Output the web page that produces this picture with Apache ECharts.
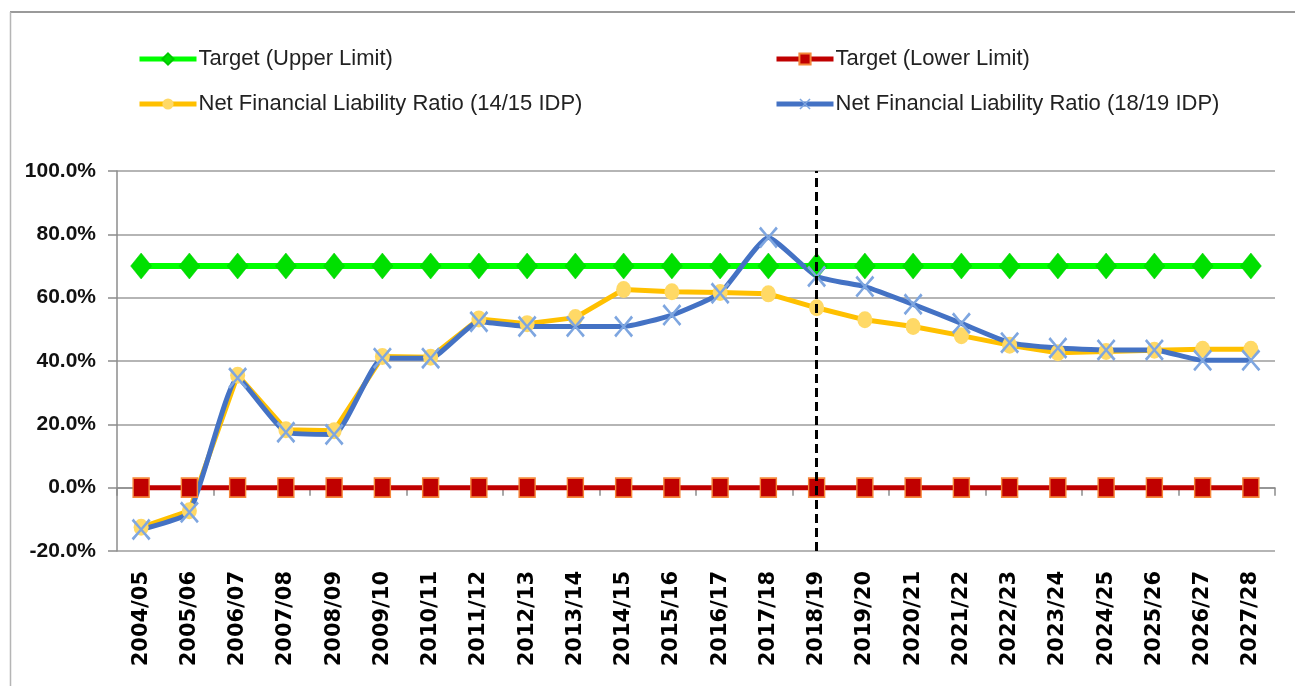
<!DOCTYPE html>
<html>
<head>
<meta charset="utf-8">
<script src="https://cdn.jsdelivr.net/npm/echarts@6/dist/echarts.min.js"></script>
<style>
html,body{margin:0;padding:0;background:#fff;}
#chart{width:1295px;height:686px;}
</style>
</head>
<body>
<div id="chart"></div>
<script>
const categories = ['2004/05','2005/06','2006/07','2007/08','2008/09','2009/10','2010/11','2011/12','2012/13','2013/14','2014/15','2015/16','2016/17','2017/18','2018/19','2019/20','2020/21','2021/22','2022/23','2023/24','2024/25','2025/26','2026/27','2027/28'];
const upperLimit = [70,70,70,70,70,70,70,70,70,70,70,70,70,70,70,70,70,70,70,70,70,70,70,70];
const lowerLimit = [0,0,0,0,0,0,0,0,0,0,0,0,0,0,0,0,0,0,0,0,0,0,0,0];
const nflr1415 = [-12.5,-7.3,35.5,18.3,18.0,41.4,41.2,53.3,51.8,53.7,62.6,61.9,61.6,61.2,56.8,53.0,50.9,48.0,45.0,42.6,43.0,43.4,43.7,43.7];
const nflr1819 = [-13.2,-7.8,34.6,17.5,16.8,40.9,40.9,52.4,50.9,50.9,50.9,54.5,61.4,79.0,66.7,63.5,57.9,51.9,45.8,44.1,43.5,43.5,40.2,40.2];
const yTicks = {min:-20, max:100, interval:20};
const dividerCategory = '2018/19';
const seriesNames = ['Target (Upper Limit)','Target (Lower Limit)','Net Financial Liability Ratio (14/15 IDP)','Net Financial Liability Ratio (18/19 IDP)'];

const sans = "'Liberation Sans',Arial,sans-serif";
const crossPath = 'path://M0,1 L1,0 L5,4.2 L9,0 L10,1 L5.8,5 L10,9 L9,10 L5,5.8 L1,10 L0,9 L4.2,5 Z';

const chart = echarts.init(document.getElementById('chart'));

function legendAt(name, left, top){
  return {
    data:[name], left:left, top:top, orient:'horizontal', padding:0,
    itemWidth:57, itemHeight:14, itemGap:0,
    lineStyle:{width:5},
    textStyle:{fontFamily:sans, fontSize:22, color:'#222', padding:[0,0,0,-3]},
    selectedMode:false
  };
}

chart.setOption({
  animation:false,
  backgroundColor:'#fff',
  graphic:[
    {type:'line', shape:{x1:10,y1:12,x2:1295,y2:12}, style:{stroke:'#9a9a9a', lineWidth:2}},
    {type:'line', shape:{x1:10.5,y1:12,x2:10.5,y2:686}, style:{stroke:'#b5b5b5', lineWidth:1.5}}
  ],
  legend:[
    legendAt(seriesNames[0],137,48),
    legendAt(seriesNames[1],774,48),
    legendAt(seriesNames[2],137,93),
    legendAt(seriesNames[3],774,93)
  ],
  grid:{left:117, right:20, top:171, bottom:135, containLabel:false},
  xAxis:[
    {type:'category', data:categories, boundaryGap:true,
     axisLine:{onZero:true, lineStyle:{color:'#8c8c8c', width:1.5}},
     axisTick:{show:true, length:8, lineStyle:{color:'#8c8c8c', width:1.5}},
     axisLabel:{show:false}, splitLine:{show:false}},
    {type:'category', data:categories, boundaryGap:true, position:'bottom',
     axisLine:{show:false, onZero:false}, axisTick:{show:false},
     axisLabel:{show:true, rotate:90, margin:20, interval:0,
       fontFamily:"'DejaVu Sans',sans-serif", fontWeight:'bold', fontSize:21, color:'#000'}}
  ],
  yAxis:{type:'value', min:yTicks.min, max:yTicks.max, interval:yTicks.interval,
    axisLine:{show:true, lineStyle:{color:'#8c8c8c', width:1.5}},
    axisTick:{show:true, length:9, lineStyle:{color:'#8c8c8c', width:1.5}},
    splitLine:{show:true, lineStyle:{color:'#9c9c9c', width:1.5}},
    axisLabel:{margin:21, fontFamily:sans, fontWeight:'bold', fontSize:21, color:'#111',
      formatter:v=>v.toFixed(1)+'%'}
  },
  series:[
    {name:seriesNames[0], type:'line', data:upperLimit, xAxisIndex:0,
     lineStyle:{color:'#00ff00', width:6}, itemStyle:{color:'#00e000', borderColor:'#00c800', borderWidth:0.5},
     symbol:'diamond', symbolSize:[21,26], showAllSymbol:true},
    {name:seriesNames[1], type:'line', data:lowerLimit, xAxisIndex:0,
     lineStyle:{color:'#c00000', width:5}, itemStyle:{color:'#c00000', borderColor:'#f5873a', borderWidth:1.5},
     symbol:'rect', symbolSize:[16,19], showAllSymbol:true},
    {name:seriesNames[2], type:'line', data:nflr1415, xAxisIndex:0,
     lineStyle:{color:'#ffc000', width:5}, itemStyle:{color:'#ffd966', borderWidth:0},
     symbol:'circle', symbolSize:[15,17], showAllSymbol:true},
    {name:seriesNames[3], type:'line', data:nflr1819, xAxisIndex:0, smooth:0.15,
     lineStyle:{color:'#4472c4', width:5}, itemStyle:{color:'#7ea6e0', borderWidth:0},
     symbol:crossPath, symbolSize:[19,22], showAllSymbol:true,
     markLine:{silent:true, symbol:['none','none'], label:{show:false},
       lineStyle:{color:'#000', width:3, type:[9,5]},
       data:[{xAxis:dividerCategory}]}}
  ]
});
</script>
</body>
</html>
